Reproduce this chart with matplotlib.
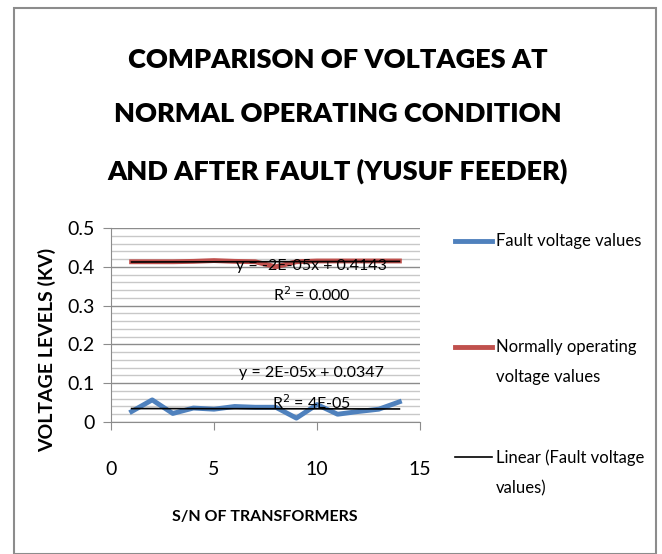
import numpy as np
import matplotlib
matplotlib.use("Agg")
import matplotlib.pyplot as plt
from matplotlib.lines import Line2D
from matplotlib.patches import Rectangle
from matplotlib.ticker import MultipleLocator

plt.rcParams['font.family'] = ['Lato', 'DejaVu Sans']

# data
transformers = [1, 2, 3, 4, 5, 6, 7, 8, 9, 10, 11, 12, 13, 14]
fault_volts = [0.027, 0.057, 0.022, 0.036, 0.033, 0.040, 0.038, 0.038, 0.010, 0.045, 0.020, 0.027, 0.033, 0.052]
normal_volts = [0.413, 0.413, 0.413, 0.414, 0.416, 0.414, 0.413, 0.400, 0.413, 0.415, 0.415, 0.415, 0.415, 0.415]
x_ticks = [0, 5, 10, 15]
y_ticks = [0, 0.1, 0.2, 0.3, 0.4, 0.5]

title = "COMPARISON OF VOLTAGES AT\nNORMAL OPERATING CONDITION\nAND AFTER FAULT (YUSUF FEEDER)"
legend_labels = ["Fault voltage values", "Normally operating\nvoltage values", "Linear (Fault voltage\nvalues)"]

fig = plt.figure(figsize=(6.62, 5.54), dpi=100)
W, H = 662, 554

# outer frame
fig.patches.append(Rectangle((14 / W, 0), 642 / W, 1 - 8 / H, transform=fig.transFigure,
                             fill=False, edgecolor='#8c8c8c', linewidth=1.5))

ax = fig.add_axes([111 / W, (H - 422) / H, 309 / W, 194 / H])

x = np.array(transformers)
ax.plot(x, normal_volts, color='#c0504d', linewidth=3.5, zorder=3)
ax.plot(x, fault_volts, color='#4f81bd', linewidth=3.5, zorder=3)

# trend lines
for series in (fault_volts, normal_volts):
    k, b = np.polyfit(x, series, 1)
    ax.plot(x, k * x + b, color='black', linewidth=1.2, zorder=4)

eq_size = 11.5
ax.text(9.75, 0.403, "y = -2E-05x + 0.4143", ha='center', va='center', fontsize=eq_size, zorder=5)
ax.text(9.75, 0.328, "R$^2$ = 0.000", ha='center', va='center', fontsize=eq_size, zorder=5)
ax.text(9.75, 0.126, "y = 2E-05x + 0.0347", ha='center', va='center', fontsize=eq_size, zorder=5)
ax.text(9.75, 0.049, "R$^2$ = 4E-05", ha='center', va='center', fontsize=eq_size, zorder=5)

ax.set_xlim(0, 15)
ax.set_ylim(0, 0.5)
ax.set_xticks(x_ticks)
ax.set_yticks(y_ticks)
ax.set_yticklabels(["0", "0.1", "0.2", "0.3", "0.4", "0.5"])
ax.yaxis.set_minor_locator(MultipleLocator(0.02))
ax.grid(True, which='major', axis='y', color='#8c8c8c', linewidth=1)
ax.grid(True, which='minor', axis='y', color='#c8c8c8', linewidth=1)
ax.set_axisbelow(True)
for s in ('top', 'right'):
    ax.spines[s].set_visible(False)
ax.spines['left'].set_color('#8c8c8c')
ax.spines['bottom'].set_color('#8c8c8c')
ax.tick_params(axis='both', which='major', direction='out', length=6, color='#8c8c8c',
               labelsize=14, pad=6)
ax.tick_params(axis='y', which='minor', length=0)
ax.tick_params(axis='x', pad=22)

fig.text(47 / W, 1 - 350 / H, "VOLTAGE LEVELS (KV)", rotation=90, ha='center', va='center',
         fontsize=14, fontweight='bold')
fig.text(265 / W, 1 - 517 / H, "S/N OF TRANSFORMERS", ha='center', va='center',
         fontsize=11.5, fontweight='bold')

fig.text(338 / W, 1 - 116 / H, title, ha='center', va='center', fontsize=19.5,
         fontweight='heavy', linespacing=2.5)

# legend drawn by hand to follow the reference spacing
leg = [(241, '#4f81bd', 3.5), (347, '#c0504d', 3.5), (457, 'black', 1.2)]
for (yy, col, lw), lab in zip(leg, legend_labels):
    fig.add_artist(Line2D([455 / W, 492 / W], [1 - yy / H, 1 - yy / H], color=col,
                          linewidth=lw, transform=fig.transFigure))
    fig.text(496 / W, 1 - (yy - 8) / H, lab, ha='left', va='top', fontsize=12, linespacing=2.1)

fig.savefig("out.png", dpi=100)
